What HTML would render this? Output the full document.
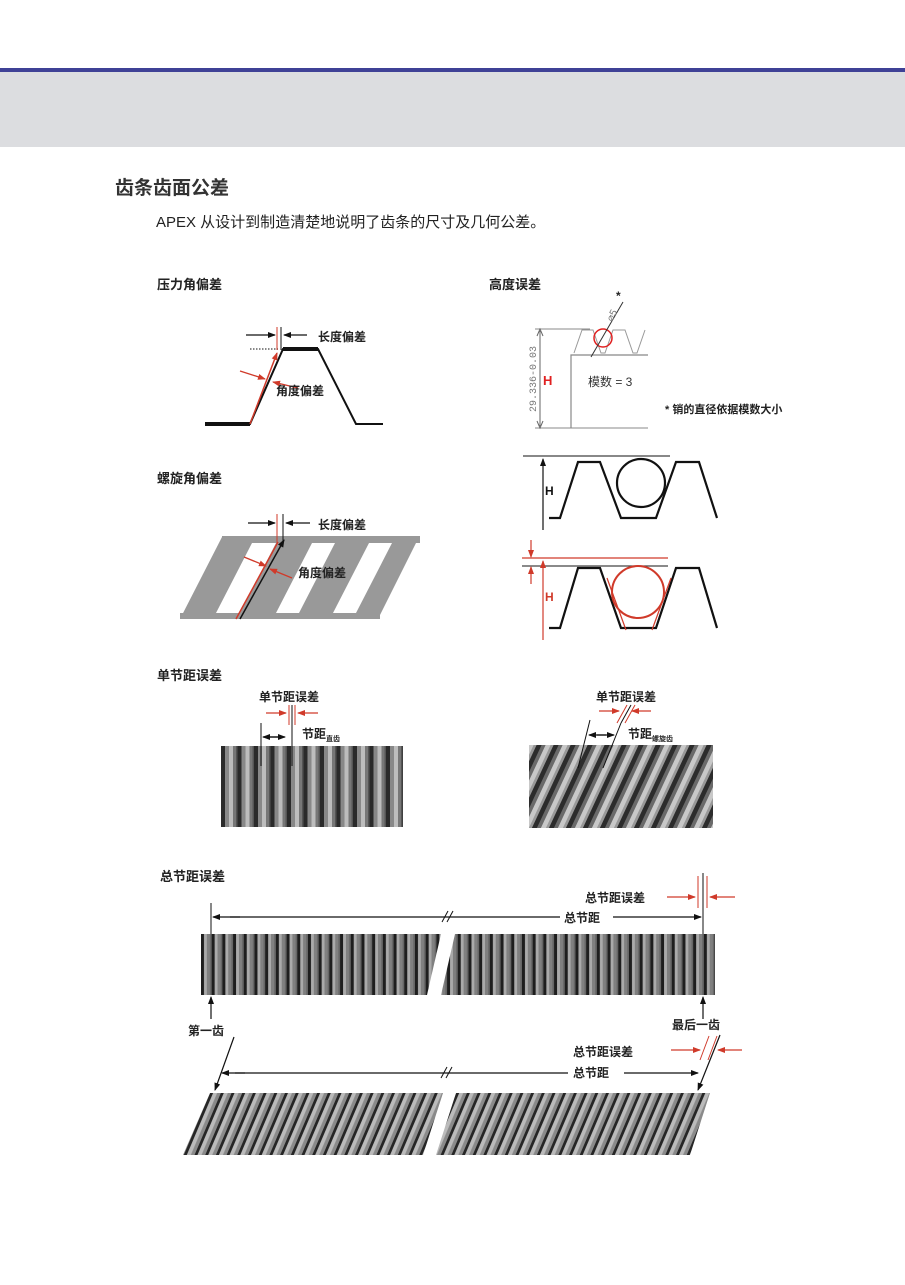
<!DOCTYPE html>
<html><head><meta charset="utf-8"><style>
html,body{margin:0;padding:0;background:#fff;}
body{width:905px;height:1285px;position:relative;overflow:hidden;font-family:"Liberation Sans","Noto Sans CJK SC",sans-serif;}
svg{position:absolute;left:0;top:0;}
.b{font-family:"Liberation Sans","Noto Sans CJK SC",sans-serif;font-weight:bold;fill:#222;}
</style></head><body>
<svg width="905" height="1285" viewBox="0 0 905 1285" xmlns="http://www.w3.org/2000/svg">
<defs>
<marker id="ak" markerWidth="8" markerHeight="8" refX="7" refY="4" orient="auto" markerUnits="userSpaceOnUse"><path d="M0,1 L8,4 L0,7 z" fill="#111"/></marker>
<marker id="ar" markerWidth="8" markerHeight="8" refX="7" refY="4" orient="auto" markerUnits="userSpaceOnUse"><path d="M0,1 L8,4 L0,7 z" fill="#d03a2a"/></marker>
<pattern id="st" width="16.5" height="10" patternUnits="userSpaceOnUse" x="221">
<rect width="16.5" height="10" fill="#555"/><rect x="0" width="4" height="10" fill="#2a2a2a"/><rect x="4" width="4" height="10" fill="#888"/><rect x="8" width="4" height="10" fill="#bdbdbd"/><rect x="12" width="3" height="10" fill="#777"/>
</pattern>
<pattern id="hl" width="17" height="90" patternUnits="userSpaceOnUse" patternTransform="skewX(-25)">
<rect width="17" height="90" fill="#999"/><rect x="0" width="5" height="90" fill="#2c2c2c"/><rect x="5" width="4" height="90" fill="#6a6a6a"/><rect x="9" width="5" height="90" fill="#c8c8c8"/>
</pattern>
<pattern id="lt" width="10.7" height="10" patternUnits="userSpaceOnUse" x="201">
<rect width="10.7" height="10" fill="#666"/><rect width="3" height="10" fill="#1e1e1e"/><rect x="3" width="3" height="10" fill="#aaa"/><rect x="6" width="3" height="10" fill="#808080"/>
</pattern>
<pattern id="lh" width="10.7" height="80" patternUnits="userSpaceOnUse" patternTransform="skewX(-23)">
<rect width="10.7" height="80" fill="#8a8a8a"/><rect width="3" height="80" fill="#262626"/><rect x="3" width="4" height="80" fill="#bbb"/>
</pattern>
</defs>

<!-- header -->
<rect x="0" y="68" width="905" height="4" fill="#3f4196"/>
<rect x="0" y="72" width="905" height="75" fill="#dcdde0"/>
<text x="115" y="194" class="b" font-size="19" style="fill:#333">齿条齿面公差</text>
<text x="156" y="227" font-size="15" fill="#222" font-family="Liberation Sans,Noto Sans CJK SC,sans-serif">APEX 从设计到制造清楚地说明了齿条的尺寸及几何公差。</text>

<!-- 压力角偏差 -->
<text x="157" y="289" class="b" font-size="13">压力角偏差</text>
<polyline points="205,424 250,424 283,349 318,349 356,424 383,424" fill="none" stroke="#111" stroke-width="2"/>
<line x1="205" y1="424" x2="250" y2="424" stroke="#111" stroke-width="4"/>
<line x1="283" y1="349" x2="318" y2="349" stroke="#111" stroke-width="4"/>
<line x1="250" y1="349" x2="278" y2="349" stroke="#111" stroke-width="1" stroke-dasharray="1.5,1.5"/>
<line x1="250" y1="424" x2="277" y2="353" stroke="#d03a2a" stroke-width="1.5" marker-end="url(#ar)"/>
<line x1="277" y1="327" x2="277" y2="350" stroke="#d03a2a" stroke-width="1"/>
<line x1="281" y1="327" x2="281" y2="350" stroke="#111" stroke-width="1"/>
<line x1="246" y1="335" x2="275" y2="335" stroke="#111" stroke-width="1.3" marker-end="url(#ak)"/>
<line x1="307" y1="335" x2="284" y2="335" stroke="#111" stroke-width="1.3" marker-end="url(#ak)"/>
<text x="318" y="341" class="b" font-size="12">长度偏差</text>
<line x1="240" y1="371" x2="265" y2="379" stroke="#d03a2a" stroke-width="1.3" marker-end="url(#ar)"/>
<line x1="298" y1="388" x2="273" y2="382" stroke="#d03a2a" stroke-width="1.3" marker-end="url(#ar)"/>
<text x="276" y="395" class="b" font-size="12">角度偏差</text>

<!-- 螺旋角偏差 -->
<text x="157" y="483" class="b" font-size="13">螺旋角偏差</text>
<polygon points="222,537 419,537 378,619 180,619" fill="#999"/>
<rect x="222" y="536" width="198" height="7" fill="#999"/>
<rect x="180" y="613" width="200" height="6" fill="#999"/>
<polygon points="252,543 276,543 240,613 216,613" fill="#fff"/>
<polygon points="312,543 335,543 299,613 276,613" fill="#fff"/>
<polygon points="369,543 392,543 356,613 333,613" fill="#fff"/>
<line x1="240" y1="619" x2="284" y2="540" stroke="#111" stroke-width="1.5" marker-end="url(#ak)"/>
<line x1="236" y1="619" x2="278" y2="542" stroke="#d03a2a" stroke-width="1.5"/>
<line x1="277" y1="514" x2="277" y2="545" stroke="#d03a2a" stroke-width="1"/>
<line x1="283" y1="514" x2="283" y2="545" stroke="#111" stroke-width="1"/>
<line x1="248" y1="523" x2="275" y2="523" stroke="#111" stroke-width="1.3" marker-end="url(#ak)"/>
<line x1="310" y1="523" x2="286" y2="523" stroke="#111" stroke-width="1.3" marker-end="url(#ak)"/>
<text x="318" y="529" class="b" font-size="12">长度偏差</text>
<line x1="244" y1="557" x2="266" y2="566" stroke="#d03a2a" stroke-width="1.3" marker-end="url(#ar)"/>
<line x1="292" y1="578" x2="270" y2="569" stroke="#d03a2a" stroke-width="1.3" marker-end="url(#ar)"/>
<text x="298" y="577" class="b" font-size="12">角度偏差</text>

<!-- 高度误差 -->
<text x="489" y="289" class="b" font-size="13">高度误差</text>
<line x1="535" y1="329" x2="590" y2="329" stroke="#888" stroke-width="1"/>
<line x1="535" y1="428" x2="648" y2="428" stroke="#888" stroke-width="1"/>
<line x1="540" y1="331" x2="540" y2="426" stroke="#666" stroke-width="1"/>
<path d="M537,336 L540,329 L543,336 M537,421 L540,428 L543,421" fill="none" stroke="#666"/>
<text transform="translate(536,412) rotate(-90)" font-size="10" fill="#777" font-family="Liberation Mono,monospace">29.336-0.03</text>
<text x="543" y="385" font-size="13" font-weight="bold" fill="#e02020" font-family="Liberation Sans,sans-serif">H</text>
<polyline points="571,428 571,355 648,355" fill="none" stroke="#888" stroke-width="1.2"/>
<polyline points="574,353 582,330 593,330 601,353 605,353 613,330 625,330 633,353 637,353 645,330" fill="none" stroke="#999" stroke-width="1"/>
<circle cx="603" cy="338" r="9" fill="none" stroke="#e02020" stroke-width="1.5"/>
<line x1="591" y1="357" x2="623" y2="302" stroke="#333" stroke-width="1"/>
<text transform="translate(612,322) rotate(-62)" font-size="10" fill="#777" font-family="Liberation Sans,sans-serif">⌀5</text>
<text x="616" y="300" class="b" font-size="12">*</text>
<text x="588" y="386" font-size="12" fill="#333" font-family="Liberation Sans,Noto Sans CJK SC,sans-serif">模数 = 3</text>
<text x="665" y="413" class="b" font-size="11">* 销的直径依据模数大小</text>

<line x1="523" y1="456" x2="670" y2="456" stroke="#111" stroke-width="1"/>
<line x1="543" y1="530" x2="543" y2="459" stroke="#111" stroke-width="1.2" marker-end="url(#ak)"/>
<text x="545" y="495" font-size="12" font-weight="bold" fill="#111" font-family="Liberation Sans,sans-serif">H</text>
<polyline points="549,518 560,518 578,462 600,462 621,518 656,518 676,462 699,462 717,518" fill="none" stroke="#111" stroke-width="2.2"/>
<circle cx="641" cy="483" r="24" fill="none" stroke="#111" stroke-width="2.2"/>

<line x1="522" y1="558" x2="668" y2="558" stroke="#d03a2a" stroke-width="1.3"/>
<line x1="522" y1="566" x2="668" y2="566" stroke="#444" stroke-width="1.3"/>
<line x1="531" y1="540" x2="531" y2="557" stroke="#d03a2a" stroke-width="1.2" marker-end="url(#ar)"/>
<line x1="531" y1="584" x2="531" y2="567" stroke="#d03a2a" stroke-width="1.2" marker-end="url(#ar)"/>
<line x1="543" y1="640" x2="543" y2="561" stroke="#d03a2a" stroke-width="1.2" marker-end="url(#ar)"/>
<text x="545" y="601" font-size="12" font-weight="bold" fill="#d03a2a" font-family="Liberation Sans,sans-serif">H</text>
<polyline points="549,628 560,628 578,568 600,568 621,628 656,628 676,568 699,568 717,628" fill="none" stroke="#111" stroke-width="2.2"/>
<circle cx="638" cy="592" r="26" fill="none" stroke="#d03a2a" stroke-width="2"/>
<line x1="607" y1="578" x2="626" y2="630" stroke="#d03a2a" stroke-width="1.2"/>
<line x1="671" y1="578" x2="652" y2="630" stroke="#d03a2a" stroke-width="1.2"/>

<!-- 单节距误差 -->
<text x="157" y="680" class="b" font-size="13">单节距误差</text>
<rect x="221" y="746" width="182" height="81" fill="url(#st)"/>
<text x="259" y="701" class="b" font-size="12">单节距误差</text>
<line x1="266" y1="713" x2="286" y2="713" stroke="#d03a2a" stroke-width="1.3" marker-end="url(#ar)"/>
<line x1="318" y1="713" x2="298" y2="713" stroke="#d03a2a" stroke-width="1.3" marker-end="url(#ar)"/>
<line x1="289" y1="705" x2="289" y2="725" stroke="#d03a2a" stroke-width="1"/>
<line x1="295" y1="705" x2="295" y2="725" stroke="#d03a2a" stroke-width="1"/>
<line x1="292" y1="705" x2="292" y2="766" stroke="#111" stroke-width="1"/>
<line x1="261" y1="723" x2="261" y2="766" stroke="#111" stroke-width="1"/>
<line x1="268" y1="737" x2="285" y2="737" stroke="#111" stroke-width="1.3" marker-end="url(#ak)"/>
<line x1="278" y1="737" x2="263" y2="737" stroke="#111" stroke-width="1.3" marker-end="url(#ak)"/>
<text x="302" y="738" class="b" font-size="12">节距<tspan font-size="7" dy="3">直齿</tspan></text>

<rect x="529" y="745" width="184" height="83" fill="url(#hl)"/>
<text x="596" y="701" class="b" font-size="12">单节距误差</text>
<line x1="599" y1="711" x2="619" y2="711" stroke="#d03a2a" stroke-width="1.3" marker-end="url(#ar)"/>
<line x1="651" y1="711" x2="632" y2="711" stroke="#d03a2a" stroke-width="1.3" marker-end="url(#ar)"/>
<line x1="617" y1="723" x2="627" y2="705" stroke="#d03a2a" stroke-width="1"/>
<line x1="625" y1="723" x2="635" y2="705" stroke="#d03a2a" stroke-width="1"/>
<line x1="621" y1="723" x2="631" y2="705" stroke="#111" stroke-width="1"/>
<line x1="578" y1="768" x2="590" y2="720" stroke="#111" stroke-width="1"/>
<line x1="603" y1="768" x2="621" y2="723" stroke="#111" stroke-width="1"/>
<line x1="597" y1="735" x2="614" y2="735" stroke="#111" stroke-width="1.3" marker-end="url(#ak)"/>
<line x1="606" y1="735" x2="589" y2="735" stroke="#111" stroke-width="1.3" marker-end="url(#ak)"/>
<text x="628" y="738" class="b" font-size="12">节距<tspan font-size="7" dy="3">螺旋齿</tspan></text>

<!-- 总节距误差 -->
<text x="160" y="881" class="b" font-size="13">总节距误差</text>
<rect x="201" y="934" width="514" height="61" fill="url(#lt)"/>
<polygon points="441,934 455,934 441,995 427,995" fill="#fff"/>
<line x1="211" y1="903" x2="211" y2="934" stroke="#111"/>
<line x1="703" y1="873" x2="703" y2="934" stroke="#111"/>
<line x1="698" y1="876" x2="698" y2="908" stroke="#d03a2a"/>
<line x1="707" y1="876" x2="707" y2="908" stroke="#d03a2a"/>
<line x1="240" y1="917" x2="213" y2="917" stroke="#111" stroke-width="1.2" marker-end="url(#ak)"/>
<line x1="230" y1="917" x2="560" y2="917" stroke="#111" stroke-width="1.2"/>
<line x1="613" y1="917" x2="701" y2="917" stroke="#111" stroke-width="1.2" marker-end="url(#ak)"/>
<line x1="442" y1="922" x2="448" y2="911" stroke="#111"/><line x1="447" y1="922" x2="453" y2="911" stroke="#111"/>
<text x="564" y="922" class="b" font-size="12">总节距</text>
<text x="585" y="902" class="b" font-size="12">总节距误差</text>
<line x1="667" y1="897" x2="695" y2="897" stroke="#d03a2a" stroke-width="1.3" marker-end="url(#ar)"/>
<line x1="735" y1="897" x2="710" y2="897" stroke="#d03a2a" stroke-width="1.3" marker-end="url(#ar)"/>
<line x1="211" y1="1019" x2="211" y2="997" stroke="#111" stroke-width="1.2" marker-end="url(#ak)"/>
<line x1="703" y1="1019" x2="703" y2="997" stroke="#111" stroke-width="1.2" marker-end="url(#ak)"/>
<text x="188" y="1035" class="b" font-size="12">第一齿</text>
<text x="672" y="1029" class="b" font-size="12">最后一齿</text>

<polygon points="210,1093 710,1093 690,1155 183,1155" fill="url(#lh)"/>
<polygon points="443,1093 456,1093 436,1155 423,1155" fill="#fff"/>
<line x1="234" y1="1037" x2="215" y2="1090" stroke="#111" stroke-width="1.2" marker-end="url(#ak)"/>
<line x1="720" y1="1035" x2="698" y2="1090" stroke="#111" stroke-width="1.2" marker-end="url(#ak)"/>
<line x1="700" y1="1060" x2="709" y2="1036" stroke="#d03a2a"/>
<line x1="708" y1="1060" x2="717" y2="1036" stroke="#d03a2a"/>
<line x1="245" y1="1073" x2="222" y2="1073" stroke="#111" stroke-width="1.2" marker-end="url(#ak)"/>
<line x1="235" y1="1073" x2="568" y2="1073" stroke="#111" stroke-width="1.2"/>
<line x1="624" y1="1073" x2="698" y2="1073" stroke="#111" stroke-width="1.2" marker-end="url(#ak)"/>
<line x1="441" y1="1078" x2="447" y2="1067" stroke="#111"/><line x1="446" y1="1078" x2="452" y2="1067" stroke="#111"/>
<text x="573" y="1077" class="b" font-size="12">总节距</text>
<text x="573" y="1056" class="b" font-size="12">总节距误差</text>
<line x1="671" y1="1050" x2="700" y2="1050" stroke="#d03a2a" stroke-width="1.3" marker-end="url(#ar)"/>
<line x1="742" y1="1050" x2="718" y2="1050" stroke="#d03a2a" stroke-width="1.3" marker-end="url(#ar)"/>
</svg>
</body></html>
